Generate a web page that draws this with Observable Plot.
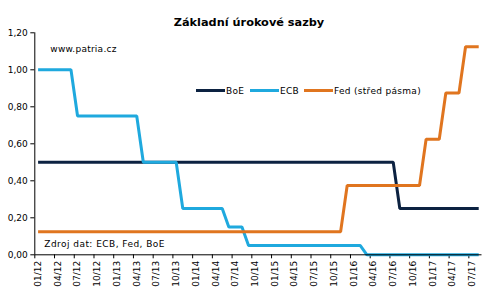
<!DOCTYPE html>
<html>
<head>
<meta charset="utf-8">
<script src="https://cdn.jsdelivr.net/npm/d3@7"></script>
<script src="https://cdn.jsdelivr.net/npm/@observablehq/plot@0.6"></script>
<style>
  html, body { margin: 0; padding: 0; background: #fff; }
  #chart { position: relative; width: 493px; height: 300px; }
</style>
</head>
<body>
<div id="chart"></div>
<script>
// Months 01/12 .. 08/17
const months = [
  "01/12","02/12","03/12","04/12","05/12","06/12","07/12","08/12","09/12","10/12","11/12","12/12",
  "01/13","02/13","03/13","04/13","05/13","06/13","07/13","08/13","09/13","10/13","11/13","12/13",
  "01/14","02/14","03/14","04/14","05/14","06/14","07/14","08/14","09/14","10/14","11/14","12/14",
  "01/15","02/15","03/15","04/15","05/15","06/15","07/15","08/15","09/15","10/15","11/15","12/15",
  "01/16","02/16","03/16","04/16","05/16","06/16","07/16","08/16","09/16","10/16","11/16","12/16",
  "01/17","02/17","03/17","04/17","05/17","06/17","07/17","08/17"
];
const boe = [
  0.50,0.50,0.50,0.50,0.50,0.50,0.50,0.50,0.50,0.50,0.50,0.50,
  0.50,0.50,0.50,0.50,0.50,0.50,0.50,0.50,0.50,0.50,0.50,0.50,
  0.50,0.50,0.50,0.50,0.50,0.50,0.50,0.50,0.50,0.50,0.50,0.50,
  0.50,0.50,0.50,0.50,0.50,0.50,0.50,0.50,0.50,0.50,0.50,0.50,
  0.50,0.50,0.50,0.50,0.50,0.50,0.50,0.25,0.25,0.25,0.25,0.25,
  0.25,0.25,0.25,0.25,0.25,0.25,0.25,0.25
];
const ecb = [
  1.00,1.00,1.00,1.00,1.00,1.00,0.75,0.75,0.75,0.75,0.75,0.75,
  0.75,0.75,0.75,0.75,0.50,0.50,0.50,0.50,0.50,0.50,0.25,0.25,
  0.25,0.25,0.25,0.25,0.25,0.15,0.15,0.15,0.05,0.05,0.05,0.05,
  0.05,0.05,0.05,0.05,0.05,0.05,0.05,0.05,0.05,0.05,0.05,0.05,
  0.05,0.05,0.00,0.00,0.00,0.00,0.00,0.00,0.00,0.00,0.00,0.00,
  0.00,0.00,0.00,0.00,0.00,0.00,0.00,0.00
];
const fed = [
  0.125,0.125,0.125,0.125,0.125,0.125,0.125,0.125,0.125,0.125,0.125,0.125,
  0.125,0.125,0.125,0.125,0.125,0.125,0.125,0.125,0.125,0.125,0.125,0.125,
  0.125,0.125,0.125,0.125,0.125,0.125,0.125,0.125,0.125,0.125,0.125,0.125,
  0.125,0.125,0.125,0.125,0.125,0.125,0.125,0.125,0.125,0.125,0.125,0.375,
  0.375,0.375,0.375,0.375,0.375,0.375,0.375,0.375,0.375,0.375,0.375,0.625,
  0.625,0.625,0.875,0.875,0.875,1.125,1.125,1.125
];
const seriesNames = ["BoE", "ECB", "Fed (střed pásma)"];
const seriesColors = ["#0c2241", "#1fa9de", "#e0751f"];
const yTicks = [0, 0.2, 0.4, 0.6, 0.8, 1.0, 1.2];
const title = "Základní úrokové sazby";
const watermark = "www.patria.cz";
const source = "Zdroj dat: ECB, Fed, BoE";

const rows = [];
[boe, ecb, fed].forEach((arr, s) => arr.forEach((v, i) => rows.push({i, v, s: seriesNames[s]})));

const labelIdx = months.map((m, i) => i).filter(i => i % 3 === 0);
const boundaries = labelIdx.map(i => i - 0.5);
const font = "DejaVu Sans, Verdana, sans-serif";

const plot = Plot.plot({
  width: 493,
  height: 300,
  marginLeft: 34.3,
  marginRight: 11.5,
  marginTop: 32.3,
  marginBottom: 45.7,
  style: {fontFamily: font, fontSize: "9px", color: "#000", background: "#fff"},
  x: {type: "linear", domain: [-0.5, months.length - 0.5], axis: null},
  y: {domain: [0, 1.2], axis: null},
  color: {domain: seriesNames, range: seriesColors},
  marks: [
    Plot.axisY({ticks: yTicks, tickFormat: d => d3.format(".2f")(d).replace(".", ","), tickSize: 4, tickPadding: 3, label: null, fontSize: 9}),
    Plot.ruleX([-0.5], {stroke: "#000", strokeWidth: 1}),
    Plot.axisX({ticks: boundaries, tickFormat: () => "", tickSize: 4, label: null}),
    Plot.axisX({ticks: labelIdx, tickFormat: i => months[i], tickSize: 0, tickPadding: 6, tickRotate: -90, label: null, fontSize: 9}),
    Plot.line(rows, {x: "i", y: "v", z: "s", stroke: "s", strokeWidth: 3, strokeLinejoin: "miter", strokeLinecap: "butt"}),
    Plot.ruleY([0], {stroke: "#000", strokeWidth: 1}),
    Plot.text([title], {frameAnchor: "top", text: d => d, dy: -14.5, dx: -9.4, fontWeight: "bold", fontSize: 11.3, fill: "#000"}),
    Plot.text([watermark], {frameAnchor: "top-left", text: d => d, dx: 15.5, dy: 13, fontSize: 9, fill: "#000"}),
    Plot.text([source], {frameAnchor: "bottom-left", text: d => d, dx: 9.5, dy: -8, fontSize: 9, fill: "#000"})
  ]
});
document.getElementById("chart").appendChild(plot);

// letter spacing tweaks to approximate the wider original face
const svg = d3.select(plot);
svg.selectAll("text").filter(function() { return this.textContent === watermark; }).style("letter-spacing", "0.25px");
svg.selectAll("text").filter(function() { return this.textContent === source; }).style("letter-spacing", "0.45px");

// Legend (inside plot area)
const legendX = [196, 250, 304];
const lg = svg.append("g").attr("font-family", font).attr("font-size", 9).attr("text-anchor", "start");
seriesNames.forEach((name, k) => {
  lg.append("line").attr("x1", legendX[k]).attr("x2", legendX[k] + 29).attr("y1", 90.5).attr("y2", 90.5)
    .attr("stroke", seriesColors[k]).attr("stroke-width", 3);
  lg.append("text").attr("x", legendX[k] + 30).attr("y", 90.5).attr("dy", "0.35em").attr("fill", "#000")
    .attr("text-anchor", "start").style("letter-spacing", "0.3px").text(name);
});
</script>
</body>
</html>
